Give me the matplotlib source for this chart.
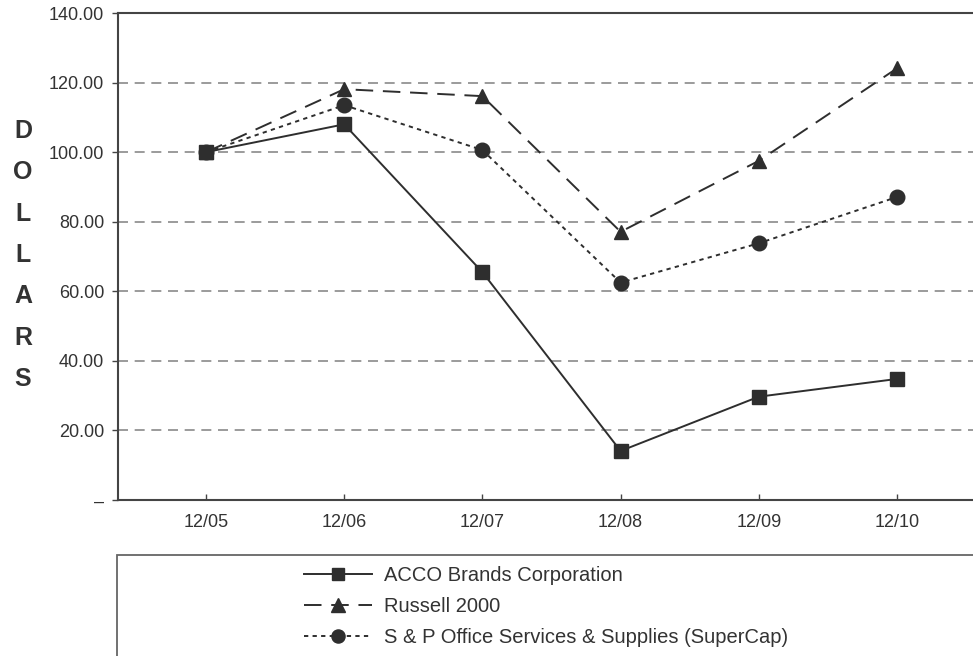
import matplotlib
matplotlib.use("Agg")
import matplotlib.pyplot as plt
from matplotlib.patches import Rectangle
from matplotlib.ticker import FixedLocator, FuncFormatter

plt.rcParams['font.family'] = ['Liberation Sans', 'DejaVu Sans']

periods = ["12/05", "12/06", "12/07", "12/08", "12/09", "12/10"]
acco = [100.0, 108.0, 65.5, 14.1, 29.7, 34.8]
russell = [100.0, 118.1, 116.1, 77.1, 97.5, 124.1]
sp_office = [100.0, 113.5, 100.6, 62.5, 73.8, 87.1]
series_names = ["ACCO Brands Corporation", "Russell 2000",
                "S & P Office Services & Supplies (SuperCap)"]
y_ticks = [0, 20, 40, 60, 80, 100, 120, 140]

W, H = 973, 656
fig = plt.figure(figsize=(W / 100, H / 100), dpi=100)
ax = fig.add_axes([118 / W, (H - 500) / H, 1 - 118 / W, 487 / H])

x = list(range(len(periods)))
dark = '#2e2e2e'
h1, = ax.plot(x, acco, color=dark, lw=1.4, ls='-', marker='s', ms=10,
              label=series_names[0], zorder=5)
h2, = ax.plot(x, russell, color=dark, lw=1.4, ls=(0, (9, 5)), marker='^', ms=10.5,
              label=series_names[1], zorder=5)
h3, = ax.plot(x, sp_office, color=dark, lw=1.4, ls=(0, (2.2, 2.2)), marker='o', ms=10.5,
              label=series_names[2], zorder=5)

ax.set_xlim(-0.637, 5.55)
ax.set_ylim(0, 140)
ax.set_xticks(x)
ax.set_xticklabels(periods)
ax.yaxis.set_major_locator(FixedLocator(y_ticks))
ax.yaxis.set_major_formatter(FuncFormatter(lambda v, p: '–' if v == 0 else f'{v:.2f}'))

for yv in y_ticks[1:-1]:
    ax.axhline(yv, color='#8a8a8a', lw=1.2, ls=(0, (6, 4)), zorder=1)

for s in ['left', 'bottom', 'top']:
    ax.spines[s].set_color('#444444')
    ax.spines[s].set_linewidth(1.5)
ax.spines['right'].set_visible(False)

ax.tick_params(axis='y', direction='out', length=4, width=1, color='#444444',
               pad=6, labelsize=13, labelcolor='#333333')
ax.tick_params(axis='x', direction='in', length=4, width=1, color='#444444',
               pad=10, labelsize=13, labelcolor='#333333')

fig.text(23 / W, 1 - 255 / H, "\n".join("DOLLARS"), ha='center', va='center',
         fontsize=18, fontweight='bold', color='#333333', linespacing=1.92)

fig.patches.append(Rectangle((117 / W, -0.05), 1.0, (H - 555) / H + 0.05,
                             transform=fig.transFigure, fill=False,
                             edgecolor='#666666', lw=1.3, clip_on=False))

leg = fig.legend(handles=[h1, h2, h3], loc='center left',
                 bbox_to_anchor=(304 / W, 1 - 606.5 / H), bbox_transform=fig.transFigure,
                 frameon=False, fontsize=14.5, handlelength=3.4, handletextpad=0.55,
                 labelspacing=0.6, borderpad=0, borderaxespad=0, numpoints=1,
                 markerscale=0.9)
for t in leg.get_texts():
    t.set_color('#333333')

fig.savefig("out.png", dpi=100)
